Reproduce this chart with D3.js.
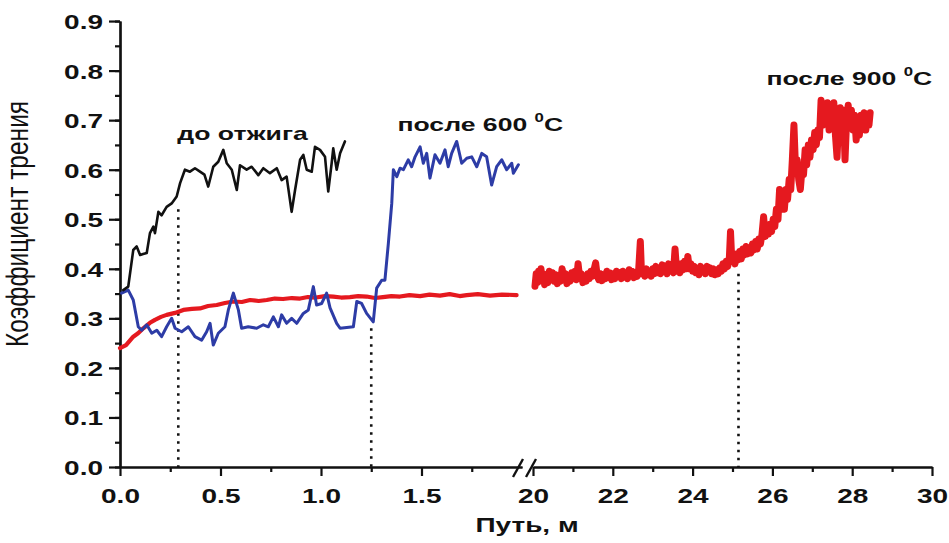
<!DOCTYPE html>
<html>
<head>
<meta charset="utf-8">
<script src="https://cdn.jsdelivr.net/npm/d3@7"></script>
<style>
  html, body { margin: 0; padding: 0; background: #fff; }
  svg { display: block; font-family: "Liberation Sans", Arial, sans-serif; }
</style>
</head>
<body>
<svg id="chart" width="949" height="543"></svg>
<script>
// ---------- DATA ----------
const yTickValues = [0, 0.1, 0.2, 0.3, 0.4, 0.5, 0.6, 0.7, 0.8, 0.9];
const xLeftTicks = [0, 0.5, 1.0, 1.5];
const xRightTicks = [20, 22, 24, 26, 28, 30];
const yTitle = "Коэффициент трения";
const xTitle = "Путь, м";

// "до отжига" (black)
const beforeDist = [0.016,0.041,0.066,0.083,0.100,0.115,0.133,0.149,0.166,0.174,0.191,0.207,0.232,0.257,0.282,0.299,0.323,0.348,0.373,0.398,0.420,0.439,0.464,0.489,0.514,0.531,0.556,0.581,0.597,0.630,0.655,0.688,0.713,0.746,0.780,0.804,0.829,0.854,0.871,0.896,0.912,0.929,0.954,0.970,0.995,1.020,1.036,1.053,1.061,1.078,1.095,1.119];
const beforeVal  = [0.357,0.364,0.438,0.445,0.428,0.430,0.432,0.472,0.485,0.472,0.515,0.508,0.525,0.532,0.546,0.573,0.600,0.596,0.603,0.596,0.590,0.566,0.606,0.616,0.640,0.613,0.600,0.559,0.609,0.600,0.606,0.589,0.603,0.593,0.603,0.579,0.586,0.515,0.559,0.620,0.630,0.600,0.596,0.646,0.640,0.626,0.556,0.613,0.643,0.600,0.633,0.657];

// "после 600 °C" (blue)
const after600Dist = [0.008,0.041,0.066,0.091,0.108,0.133,0.158,0.183,0.207,0.232,0.257,0.274,0.307,0.340,0.373,0.406,0.431,0.448,0.464,0.489,0.522,0.539,0.564,0.589,0.605,0.638,0.680,0.713,0.738,0.763,0.788,0.804,0.829,0.854,0.879,0.912,0.937,0.962,0.978,1.003,1.028,1.045,1.078,1.095,1.161,1.178,1.202,1.227,1.260,1.277,1.302,1.318,1.335,1.352,1.360,1.377,1.393,1.410,1.434,1.451,1.468,1.493,1.509,1.526,1.542,1.567,1.592,1.617,1.633,1.650,1.675,1.700,1.725,1.750,1.775,1.800,1.824,1.849,1.874,1.899,1.924,1.949,1.957,1.982];
const after600Val  = [0.351,0.357,0.337,0.283,0.276,0.287,0.270,0.276,0.263,0.283,0.300,0.280,0.273,0.283,0.263,0.256,0.273,0.290,0.246,0.270,0.283,0.317,0.351,0.317,0.280,0.283,0.280,0.287,0.283,0.303,0.283,0.307,0.290,0.300,0.290,0.310,0.317,0.364,0.327,0.330,0.351,0.321,0.290,0.280,0.283,0.334,0.330,0.310,0.293,0.361,0.377,0.377,0.451,0.532,0.600,0.586,0.603,0.600,0.620,0.606,0.626,0.646,0.613,0.633,0.583,0.630,0.613,0.640,0.606,0.633,0.657,0.613,0.623,0.626,0.606,0.633,0.626,0.569,0.606,0.620,0.600,0.613,0.593,0.610];

// "после 900 °C" short run (red, left segment)
const after900aDist = [0.000,0.030,0.066,0.090,0.116,0.149,0.174,0.204,0.232,0.274,0.315,0.358,0.398,0.438,0.481,0.522,0.564,0.606,0.647,0.690,0.730,0.770,0.811,0.855,0.896,0.935,0.975,1.020,1.061,1.100,1.144,1.185,1.227,1.268,1.308,1.350,1.393,1.440,1.493,1.540,1.592,1.640,1.690,1.725,1.780,1.841,1.900,1.973];
const after900aVal  = [0.240,0.246,0.263,0.270,0.280,0.291,0.297,0.303,0.307,0.311,0.317,0.319,0.320,0.325,0.327,0.331,0.334,0.333,0.337,0.335,0.337,0.340,0.339,0.341,0.340,0.343,0.342,0.345,0.344,0.342,0.343,0.345,0.344,0.341,0.343,0.345,0.344,0.347,0.345,0.348,0.346,0.349,0.345,0.347,0.349,0.346,0.348,0.347];

// "после 900 °C" long run (red, right segment)
const after900bDist = [20.05,20.08,20.11,20.14,20.17,20.20,20.23,20.26,20.29,20.33,20.37,20.41,20.45,20.49,20.53,20.57,20.61,20.65,20.69,20.73,20.77,20.81,20.85,20.89,20.93,20.97,21.01,21.05,21.09,21.13,21.17,21.21,21.25,21.29,21.33,21.37,21.41,21.45,21.49,21.53,21.57,21.61,21.65,21.69,21.73,21.77,21.81,21.85,21.89,21.93,21.97,22.01,22.05,22.09,22.13,22.17,22.21,22.25,22.29,22.33,22.37,22.41,22.45,22.49,22.53,22.57,22.61,22.65,22.69,22.72,22.76,22.80,22.84,22.88,22.92,22.96,23.00,23.04,23.08,23.12,23.16,23.20,23.24,23.28,23.32,23.36,23.40,23.44,23.48,23.52,23.56,23.60,23.64,23.68,23.72,23.76,23.80,23.84,23.88,23.92,23.96,24.00,24.04,24.08,24.12,24.16,24.20,24.24,24.28,24.32,24.36,24.40,24.44,24.48,24.52,24.56,24.60,24.64,24.68,24.72,24.76,24.80,24.84,24.88,24.92,24.95,24.98,25.02,25.06,25.10,25.14,25.18,25.22,25.26,25.30,25.34,25.38,25.42,25.46,25.50,25.54,25.58,25.62,25.66,25.70,25.74,25.78,25.82,25.86,25.90,25.94,25.98,26.02,26.06,26.10,26.14,26.18,26.22,26.26,26.30,26.34,26.38,26.42,26.46,26.50,26.54,26.58,26.62,26.66,26.70,26.74,26.78,26.82,26.86,26.90,26.94,26.98,27.02,27.06,27.10,27.14,27.18,27.22,27.26,27.30,27.34,27.38,27.42,27.46,27.50,27.54,27.58,27.62,27.66,27.70,27.74,27.78,27.82,27.86,27.90,27.94,27.98,28.02,28.06,28.10,28.14,28.18,28.22,28.26,28.30,28.34,28.38,28.42,28.45];
const after900bVal  = [0.365,0.390,0.372,0.395,0.380,0.400,0.375,0.390,0.368,0.385,0.372,0.395,0.378,0.392,0.375,0.388,0.370,0.385,0.375,0.400,0.378,0.390,0.370,0.385,0.375,0.392,0.380,0.395,0.378,0.410,0.382,0.390,0.372,0.385,0.375,0.390,0.380,0.395,0.385,0.398,0.412,0.385,0.378,0.390,0.376,0.388,0.380,0.395,0.382,0.392,0.378,0.390,0.380,0.395,0.385,0.392,0.380,0.395,0.383,0.390,0.380,0.398,0.385,0.395,0.382,0.390,0.385,0.400,0.455,0.390,0.398,0.385,0.400,0.388,0.395,0.385,0.400,0.390,0.405,0.392,0.400,0.390,0.408,0.395,0.405,0.390,0.410,0.395,0.400,0.392,0.440,0.395,0.405,0.392,0.410,0.398,0.415,0.400,0.425,0.400,0.410,0.395,0.405,0.392,0.400,0.388,0.405,0.395,0.400,0.390,0.405,0.395,0.402,0.390,0.400,0.388,0.398,0.390,0.402,0.395,0.410,0.400,0.415,0.405,0.420,0.475,0.420,0.425,0.410,0.430,0.418,0.435,0.420,0.440,0.428,0.445,0.430,0.440,0.432,0.450,0.438,0.455,0.440,0.460,0.450,0.470,0.505,0.465,0.485,0.470,0.490,0.475,0.500,0.485,0.520,0.500,0.560,0.520,0.545,0.520,0.560,0.540,0.580,0.560,0.620,0.690,0.600,0.620,0.580,0.560,0.600,0.590,0.640,0.610,0.650,0.625,0.660,0.640,0.675,0.650,0.680,0.665,0.740,0.690,0.730,0.700,0.735,0.680,0.720,0.700,0.735,0.670,0.625,0.700,0.725,0.680,0.720,0.620,0.700,0.730,0.690,0.720,0.680,0.710,0.660,0.700,0.670,0.710,0.690,0.715,0.680,0.710,0.690,0.715];

// Dotted guide lines: [distance, top value]
const guideLeft = [[0.29, 0.52], [1.25, 0.28]];
const guideRight = [[25.15, 0.39]];

const seriesLabels = [
  { text: "до отжига", sup: null, x: 0.285, seg: "L", y: 0.66 },
  { text: "после 600 ", sup: "0", tail: "C", x: 1.38, seg: "L", y: 0.678 },
  { text: "после 900 ", sup: "0", tail: "C", x: 25.85, seg: "R", y: 0.77 }
];

// ---------- SCALES ----------
const svg = d3.select("#chart");
const xL = d3.scaleLinear().domain([0, 2.0]).range([120, 522]);
const xR = d3.scaleLinear().domain([20, 30]).range([533, 932]);
const y = d3.scaleLinear().domain([0, 0.9]).range([467, 21.05]);

const SX = 1.4; // horizontal stretch of lettering in the original
const axisColor = "#111";

// ---------- AXES ----------
function styleAxis(g) {
  g.selectAll("path.domain").attr("stroke", axisColor).attr("stroke-width", 2.2);
  g.selectAll(".tick line").attr("stroke", axisColor).attr("stroke-width", 2.2);
}

// Y minor
const yMinor = d3.range(0, 0.9001, 0.05).map(v => +v.toFixed(2));
svg.append("g").attr("transform", "translate(120,0)")
  .call(d3.axisLeft(y).tickValues(yMinor).tickSize(5).tickFormat("").tickSizeOuter(0))
  .call(styleAxis);
// Y major
const gy = svg.append("g").attr("transform", "translate(120,0)")
  .call(d3.axisLeft(y).tickValues(yTickValues).tickSize(11).tickFormat(d3.format(".1f")).tickSizeOuter(0))
  .call(styleAxis);
gy.selectAll(".tick text")
  .attr("x", null).attr("dy", null)
  .attr("transform", `translate(-17,7.5) scale(${SX},1)`)
  .attr("font-size", 20).attr("font-weight", "bold").attr("fill", "#111")
  .attr("font-family", "Liberation Sans, Arial, sans-serif");

// X left
const xLMinor = [0.25, 0.75, 1.25, 1.75];
svg.append("g").attr("transform", "translate(0,467)")
  .call(d3.axisBottom(xL).tickValues(xLMinor).tickSize(5).tickFormat("").tickSizeOuter(0))
  .call(styleAxis);
const gxl = svg.append("g").attr("transform", "translate(0,467)")
  .call(d3.axisBottom(xL).tickValues(xLeftTicks).tickSize(9).tickFormat(d3.format(".1f")).tickSizeOuter(0))
  .call(styleAxis);
// X right
const xRMinor = [21, 23, 25, 27, 29];
svg.append("g").attr("transform", "translate(0,467)")
  .call(d3.axisBottom(xR).tickValues(xRMinor).tickSize(5).tickFormat("").tickSizeOuter(0))
  .call(styleAxis);
const gxr = svg.append("g").attr("transform", "translate(0,467)")
  .call(d3.axisBottom(xR).tickValues(xRightTicks).tickSize(9).tickFormat(d3.format("d")).tickSizeOuter(0))
  .call(styleAxis);
[gxl, gxr].forEach(g => {
  g.selectAll(".tick text")
    .attr("y", null).attr("dy", null)
    .attr("transform", `translate(0,36) scale(${SX},1)`)
    .attr("font-size", 20).attr("font-weight", "bold").attr("fill", "#111")
    .attr("font-family", "Liberation Sans, Arial, sans-serif");
});
svg.selectAll(".domain").attr("fill", "none");

// axis break marks
const brk = svg.append("g").attr("stroke", axisColor).attr("stroke-width", 2.4);
[xL(2.0) - 4, xR(20) - 2].forEach(cx => {
  brk.append("line").attr("x1", cx - 5).attr("y1", 477).attr("x2", cx + 5).attr("y2", 459);
});

// axis titles
svg.append("text")
  .attr("transform", `translate(28,224) rotate(-90) scale(1,1.25)`)
  .attr("text-anchor", "middle").attr("font-size", 24.5).attr("fill", "#111")
  .text(yTitle);
svg.append("text")
  .attr("transform", `translate(527,532) scale(${SX},1)`)
  .attr("text-anchor", "middle").attr("font-size", 20).attr("font-weight", "bold").attr("fill", "#111")
  .text(xTitle);

// ---------- GUIDES ----------
const guides = svg.append("g").attr("stroke", "#111").attr("stroke-width", 2.6)
  .attr("stroke-dasharray", "2.5,5.5");
guideLeft.forEach(([d, v]) => guides.append("line")
  .attr("x1", xL(d)).attr("x2", xL(d)).attr("y1", y(v)).attr("y2", y(0)));
guideRight.forEach(([d, v]) => guides.append("line")
  .attr("x1", xR(d)).attr("x2", xR(d)).attr("y1", y(v)).attr("y2", y(0)));

// ---------- LINES ----------
function drawSeries(dist, val, xs, color, width) {
  const pts = dist.map((d, i) => [d, val[i]]);
  const line = d3.line().x(p => xs(p[0])).y(p => y(p[1]));
  svg.append("path").datum(pts)
    .attr("d", line).attr("fill", "none")
    .attr("stroke", color).attr("stroke-width", width)
    .attr("stroke-linejoin", "round").attr("stroke-linecap", "round");
}
drawSeries(after900aDist, after900aVal, xL, "#e5191f", 4.2);
drawSeries(after600Dist, after600Val, xL, "#2d3ca6", 3);
drawSeries(beforeDist, beforeVal, xL, "#111111", 2.6);
drawSeries(after900bDist, after900bVal, xR, "#e5191f", 7);

// ---------- LABELS ----------
seriesLabels.forEach(l => {
  const xs = l.seg === "L" ? xL : xR;
  const t = svg.append("text")
    .attr("transform", `translate(${xs(l.x)},${y(l.y)}) scale(${SX},1)`)
    .attr("font-size", 19).attr("font-weight", "bold").attr("fill", "#111");
  t.append("tspan").text(l.text);
  if (l.sup) {
    t.append("tspan").attr("font-size", 12).attr("dy", -9).text(l.sup);
    t.append("tspan").attr("dy", 9).text(l.tail);
  }
});
</script>
</body>
</html>
